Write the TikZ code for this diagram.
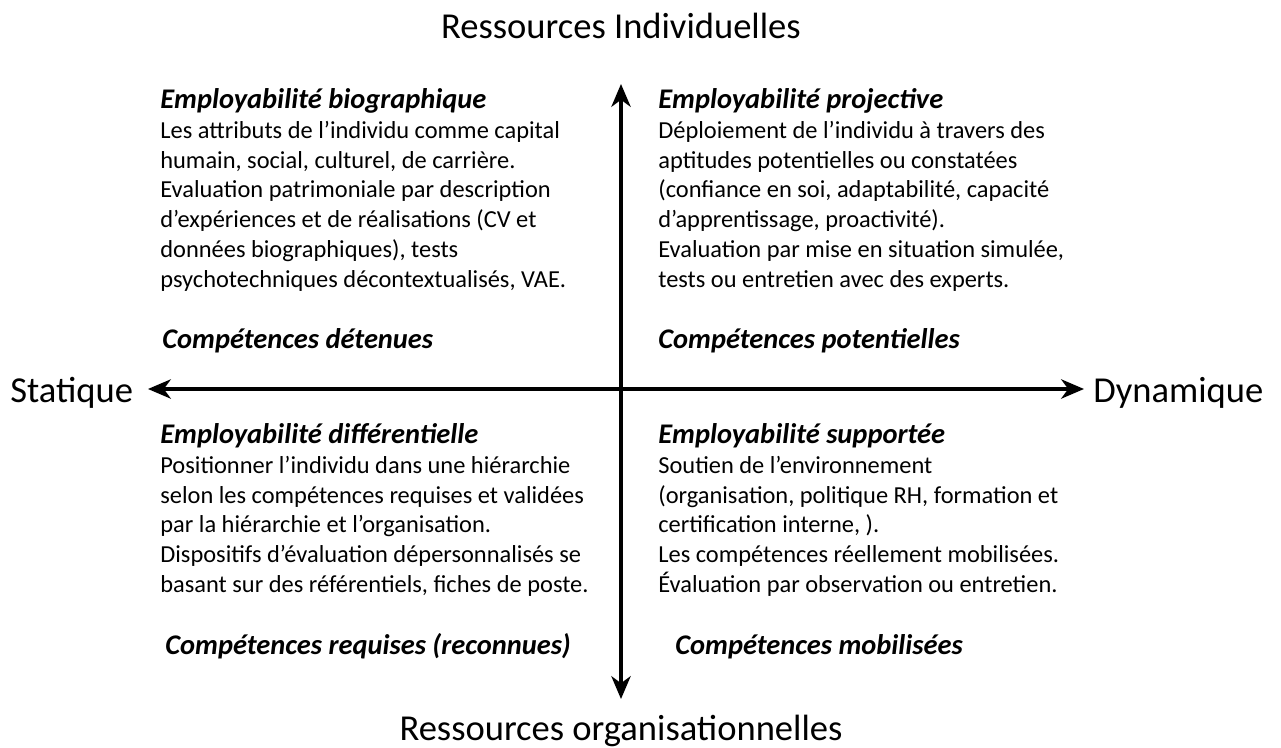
\documentclass[tikz,border=0pt]{standalone}
\usepackage{fontspec}
\setmainfont{Carlito}
\usepackage{tikz}
\usetikzlibrary{arrows.meta}
\tikzset{every picture/.style={x=0.02cm, y=-0.02cm}}
\tikzset{block/.style={align=left, inner sep=0pt, anchor=north west, font=\fontsize{13.9}{17}\selectfont}}
\tikzset{comp/.style={inner sep=0pt, anchor=base west, font=\fontsize{16.2}{17}\selectfont\bfseries\itshape}}
\tikzset{axislabel/.style={inner sep=0pt, font=\fontsize{20.8}{24}\selectfont}}
\tikzset{axis/.style={line width=1.9pt, {Stealth[length=13pt, width=11pt, inset=4pt]}-{Stealth[length=13pt, width=11pt, inset=4pt]}}}
\newcommand{\heading}[1]{{\fontsize{16.2}{17}\selectfont\bfseries\itshape #1}}

\begin{document}
\begin{tikzpicture}
\useasboundingbox (0,0) rectangle (1281,747);
\coordinate (top) at (621,84);
\coordinate (bot) at (621,699);
\coordinate (left) at (148,389);
\coordinate (right) at (1084,389);
\node[axislabel, anchor=base] (ri) at (621,38) {Ressources Individuelles};
\node[axislabel, anchor=base] (ro) at (621,740) {Ressources organisationnelles};
\node[axislabel, anchor=base west] (stat) at (10,402) {Statique};
\node[axislabel, anchor=base west] (dyn) at (1093,402) {Dynamique};
\draw[axis] (top) -- (bot);
\draw[axis] (left) -- (right);
\node[block] (bio) at (160,88) {\heading{Employabilité biographique}\\
Les attributs de l’individu comme capital\\
humain, social, culturel, de carrière.\\
Evaluation patrimoniale par description\\
d’expériences et de réalisations (CV et\\
données biographiques), tests\\
psychotechniques décontextualisés, VAE.};
\node[block] (proj) at (658,88) {\heading{Employabilité projective}\\
Déploiement de l’individu à travers des\\
aptitudes potentielles ou constatées\\
(confiance en soi, adaptabilité, capacité\\
d’apprentissage, proactivité).\\
Evaluation par mise en situation simulée,\\
tests ou entretien avec des experts.};
\node[block] (diff) at (160,423) {\heading{Employabilité différentielle}\\
Positionner l’individu dans une hiérarchie\\
selon les compétences requises et validées\\
par la hiérarchie et l’organisation.\\
Dispositifs d’évaluation dépersonnalisés se\\
basant sur des référentiels, fiches de poste.};
\node[block] (supp) at (658,423) {\heading{Employabilité supportée}\\
Soutien de l’environnement\\
(organisation, politique RH, formation et\\
certification interne, ).\\
Les compétences réellement mobilisées.\\
Évaluation par observation ou entretien.};
\node[comp] (det) at (162,348) {Compétences détenues};
\node[comp] (pot) at (658,348) {Compétences potentielles};
\node[comp] (req) at (165,654) {Compétences requises (reconnues)};
\node[comp] (mob) at (675,654) {Compétences mobilisées};
\end{tikzpicture}
\end{document}
